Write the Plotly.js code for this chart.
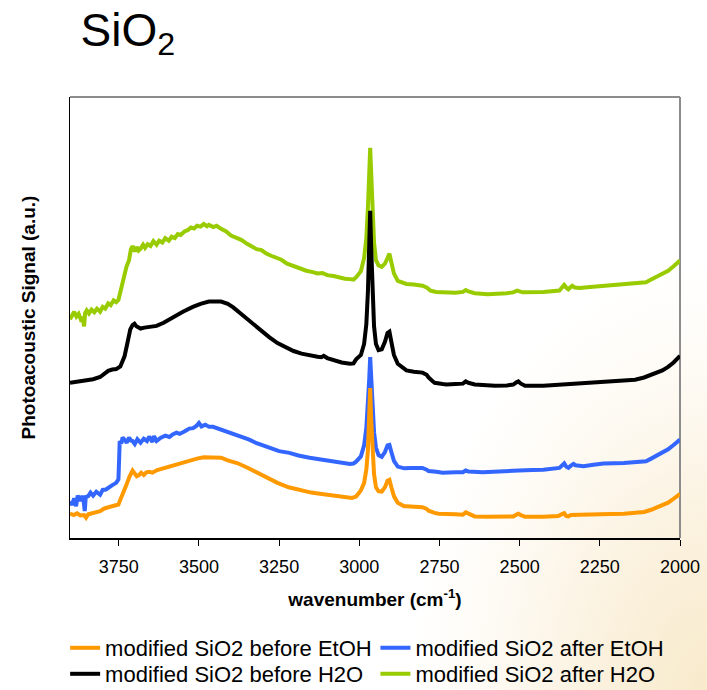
<!DOCTYPE html>
<html>
<head>
<meta charset="utf-8">
<script src="https://cdn.plot.ly/plotly-3.0.1.min.js"></script>
<style>
  html, body { margin: 0; padding: 0; }
  body {
    width: 707px; height: 690px; overflow: hidden;
    background: radial-gradient(ellipse 42% 62% at 100% 100%, #f8eacb 0%, #fbf2e0 40%, #fefbf5 75%, #ffffff 100%);
  }
  #chart { width: 707px; height: 690px; }
</style>
</head>
<body>
<div id="chart"></div>
<script>
// Photoacoustic spectra of modified SiO2 (arbitrary units, curves offset vertically)

const beforeEtohWn = [3902,3890,3880,3870,3858,3852,3845,3830,3808,3795,3783,3765,3751,3745,3738,3726,3716,3707,3700,3694,3688,3680,3672,3664,3655,3645,3630,3607,3580,3557,3530,3506,3485,3469,3450,3431,3410,3381,3350,3318,3290,3255,3220,3180,3150,3117,3085,3054,3035,3023,3010,2995,2985,2978,2973,2969,2966,2963,2959,2954,2948,2940,2930,2920,2912,2906,2900,2892,2880,2860,2853,2830,2803,2790,2784,2765,2753,2700,2677,2668,2660,2640,2600,2552,2520,2510,2504,2496,2483,2426,2380,2368,2361,2355,2348,2340,2301,2250,2175,2140,2112,2090,2075,2055,2037,2020,2000];
const beforeEtohSig = [5.5,5.2,5.6,5.1,5.2,4.6,5.4,5.6,6.1,6.7,7.0,7.3,7.6,8.7,10.2,12.1,14.0,15.3,14.6,14.0,14.2,14.8,14.3,14.9,15.0,14.8,15.4,15.9,16.5,17.0,17.5,18.0,18.3,18.3,18.4,18.2,17.6,17.0,16.0,14.8,13.6,12.5,11.5,10.8,10.3,10.0,9.7,9.5,9.3,9.1,9.4,10.8,12.5,15.5,20.0,27.0,34.0,27.0,20.0,14.5,11.5,10.6,10.5,11.5,13.0,13.2,11.5,9.5,8.0,7.2,7.2,7.1,7.0,6.6,6.2,5.7,5.5,5.4,5.3,5.8,5.5,4.9,4.8,4.8,4.9,5.3,5.5,5.2,4.8,4.8,5.0,5.4,5.6,5.0,4.9,5.2,5.2,5.4,5.5,5.7,5.9,6.4,6.8,7.4,8.0,8.9,10.0];

const afterEtohWn = [3902,3895,3889,3883,3878,3870,3864,3860,3856,3853,3845,3838,3830,3820,3808,3800,3790,3783,3770,3758,3751,3749,3747,3742,3738,3732,3725,3718,3712,3707,3700,3692,3682,3672,3662,3655,3645,3640,3632,3620,3605,3592,3582,3570,3560,3544,3530,3518,3508,3500,3492,3480,3468,3456,3440,3420,3406,3390,3370,3343,3320,3300,3280,3250,3218,3190,3155,3120,3079,3050,3029,3018,3010,2995,2985,2978,2973,2969,2966,2963,2959,2954,2948,2940,2930,2920,2912,2906,2900,2892,2880,2860,2840,2803,2790,2784,2760,2740,2700,2677,2668,2660,2615,2552,2502,2460,2426,2376,2368,2361,2355,2348,2340,2332,2326,2301,2270,2238,2175,2140,2106,2090,2075,2055,2037,2020,2000];
const afterEtohSig = [8.3,7.5,9.0,7.2,9.6,8.4,9.5,8.8,6.1,9.3,9.5,10.3,9.6,10.5,9.8,10.9,11.0,11.4,12.0,12.5,13.3,17.5,22.0,21.4,22.8,22.3,21.6,22.8,22.1,22.0,21.3,22.4,21.6,22.5,22.0,23.0,21.8,23.1,22.0,22.7,23.2,22.9,23.5,23.9,23.6,24.2,24.8,24.9,25.4,26.1,25.3,25.7,25.2,25.2,24.8,24.3,24.1,23.5,23.0,22.3,21.5,21.0,20.5,19.7,19.3,18.7,18.2,17.8,17.4,17.0,16.8,16.9,17.3,18.5,21.0,25.0,30.0,36.0,41.0,36.0,29.5,24.0,20.5,18.8,18.4,19.5,21.0,21.1,19.5,17.5,16.2,15.8,15.9,15.9,15.5,15.2,15.0,14.8,14.9,14.9,15.3,15.1,14.9,15.0,15.3,15.4,15.5,15.9,16.4,16.9,16.2,15.9,16.4,16.8,16.5,16.3,16.6,16.9,17.0,17.2,17.4,18.0,18.6,19.4,20.1,21.1,22.3];

const beforeH2oWn = [3902,3880,3858,3830,3808,3795,3783,3770,3758,3745,3739,3732,3726,3720,3714,3707,3701,3695,3688,3682,3670,3650,3632,3610,3582,3550,3519,3495,3469,3450,3431,3410,3393,3370,3343,3310,3280,3255,3230,3205,3180,3150,3130,3118,3111,3100,3079,3055,3029,3018,3010,2995,2985,2978,2973,2969,2966,2963,2959,2954,2948,2940,2930,2920,2912,2906,2900,2892,2880,2860,2853,2830,2803,2790,2784,2772,2765,2740,2728,2700,2677,2668,2660,2640,2600,2577,2540,2520,2510,2504,2496,2483,2426,2380,2363,2340,2301,2250,2175,2140,2112,2090,2075,2055,2037,2020,2000];
const beforeH2oSig = [35.2,35.4,35.6,36.0,36.5,37.2,37.9,38.2,38.3,38.9,39.8,41.2,43.2,45.3,47.3,48.3,48.6,48.0,47.6,47.5,47.7,47.9,48.1,48.8,50.0,51.3,52.4,53.1,53.6,53.7,53.6,53.1,52.3,50.9,49.2,47.4,45.5,44.2,43.2,42.4,41.8,41.3,41.1,41.0,41.3,40.8,40.3,39.8,39.5,39.6,40.5,41.5,44.0,48.5,56.0,66.0,74.2,66.0,56.0,48.0,44.0,42.6,42.8,44.5,46.5,46.8,44.5,41.5,39.5,38.2,38.0,37.7,37.5,37.0,36.4,35.6,35.2,34.9,34.8,34.9,35.0,35.5,35.2,34.8,34.6,34.5,34.6,34.8,35.3,35.5,35.0,34.5,34.5,34.7,34.9,34.9,35.0,35.2,35.6,35.9,36.4,37.0,37.5,38.0,38.8,39.8,41.3];

const afterH2oWn = [3902,3895,3889,3882,3875,3868,3862,3858,3855,3850,3843,3835,3826,3818,3808,3800,3792,3783,3775,3766,3758,3751,3748,3744,3739,3733,3726,3718,3712,3707,3700,3694,3688,3682,3674,3668,3660,3651,3642,3632,3624,3614,3605,3594,3585,3575,3566,3557,3545,3535,3525,3515,3506,3495,3485,3475,3469,3455,3445,3431,3415,3400,3385,3368,3350,3335,3320,3305,3290,3275,3260,3243,3225,3210,3195,3180,3165,3145,3130,3115,3100,3080,3060,3045,3030,3018,3010,2995,2985,2978,2973,2969,2966,2963,2959,2954,2948,2940,2930,2920,2912,2906,2900,2892,2880,2865,2853,2830,2803,2790,2778,2760,2740,2700,2677,2668,2660,2640,2600,2577,2540,2520,2508,2495,2489,2426,2390,2376,2368,2361,2355,2348,2342,2336,2328,2313,2280,2238,2200,2175,2140,2106,2090,2075,2055,2037,2020,2000];
const afterH2oSig = [49.6,50.5,51.3,50.2,50.8,49.5,49.8,48.0,51.0,51.6,50.9,51.8,51.2,52.0,51.3,52.4,52.0,53.2,52.8,53.9,53.5,54.0,55.0,55.8,57.8,59.0,61.5,63.0,65.5,66.2,65.0,66.0,65.2,65.6,66.5,65.8,66.6,66.2,67.3,66.5,67.4,67.0,68.0,67.4,68.3,68.0,68.9,68.7,69.5,69.8,70.4,70.2,70.8,70.6,71.2,70.7,71.0,70.5,70.8,70.1,69.5,68.6,68.1,67.6,66.7,66.2,65.5,65.3,64.5,64.0,63.5,63.1,62.2,61.8,61.3,61.0,60.6,60.3,60.0,60.1,59.6,59.4,59.0,58.8,58.7,58.6,59.1,60.5,63.5,68.0,75.0,83.0,88.5,83.0,75.0,67.0,63.0,61.8,61.5,62.2,63.5,64.5,62.5,60.0,58.3,57.8,57.6,57.5,57.2,56.8,56.1,55.8,55.7,55.6,55.8,56.2,55.9,55.5,55.3,55.3,55.5,55.7,56.1,55.8,55.7,55.8,55.9,56.1,56.8,57.4,56.8,56.4,56.8,57.2,56.8,56.7,56.9,57.2,57.4,57.6,57.8,58.0,58.6,59.1,59.9,60.6,61.6,62.9];

const xTicks = [3750, 3500, 3250, 3000, 2750, 2500, 2250, 2000];
const xRange = [3902, 2000];

const FONT = 'Liberation Sans, Arial, sans-serif';

function series(name, x, y, color, legendId) {
  return {
    type: 'scatter', mode: 'lines', name: name, x: x, y: y,
    line: { color: color, width: 4 },
    legend: legendId, hoverinfo: 'skip'
  };
}

// drawn bottom-up so that black sits over green and orange over blue
const traces = [
  series('modified SiO2 after H2O', afterH2oWn, afterH2oSig, '#99cc00', 'legend4'),
  series('modified SiO2 before H2O', beforeH2oWn, beforeH2oSig, '#000000', 'legend3'),
  series('modified SiO2 after EtOH', afterEtohWn, afterEtohSig, '#3366ff', 'legend2'),
  series('modified SiO2 before EtOH', beforeEtohWn, beforeEtohSig, '#ff9900', 'legend')
];

// one legend box per entry: two columns, two rows under the axis title
function legendBox(x, y) {
  return {
    orientation: 'v',
    xref: 'paper', x: x, xanchor: 'left',
    yref: 'paper', y: y, yanchor: 'middle',
    font: { family: FONT, size: 22, color: '#000' },
    bgcolor: 'rgba(0,0,0,0)'
  };
}
const col1 = -0.008, col2 = 0.5007;
const row1 = -0.2494, row2 = -0.3084;

const layout = {
  width: 707, height: 690,
  paper_bgcolor: 'rgba(0,0,0,0)',
  plot_bgcolor: 'rgba(0,0,0,0)',
  margin: { l: 70, r: 27, t: 97, b: 152, autoexpand: false },
  font: { family: FONT, color: '#000' },
  title: {
    text: 'SiO<sub>2</sub>',
    font: { family: FONT, size: 46, color: '#000' },
    xref: 'container', x: 0.114, xanchor: 'left',
    yref: 'container', y: 0.957, yanchor: 'middle'
  },
  xaxis: {
    range: xRange,
    tickmode: 'array', tickvals: xTicks,
    ticks: 'outside', ticklen: 6, tickwidth: 1, tickcolor: '#000',
    ticklabelstandoff: 6,
    showline: true, linecolor: '#000', linewidth: 1.5,
    showgrid: false, zeroline: false,
    tickfont: { family: FONT, size: 18, color: '#000' },
    title: {
      text: '<b>wavenumber (cm<sup>-1</sup>)</b>',
      font: { family: FONT, size: 19, color: '#000' },
      standoff: 16
    },
    automargin: false
  },
  yaxis: {
    range: [0, 100],
    showticklabels: false, ticks: '',
    showline: true, linecolor: '#000', linewidth: 1.5,
    showgrid: false, zeroline: false,
    title: {
      text: '<b>Photoacoustic Signal (a.u.)</b>',
      font: { family: FONT, size: 19, color: '#000' },
      standoff: 28
    },
    automargin: false
  },
  shapes: [
    { type: 'line', xref: 'paper', yref: 'paper', x0: 0, x1: 1, y0: 1, y1: 1,
      line: { color: '#8c8c8c', width: 2 }, layer: 'below' },
    { type: 'line', xref: 'paper', yref: 'paper', x0: 1, x1: 1, y0: 0, y1: 1,
      line: { color: '#8c8c8c', width: 2 }, layer: 'below' }
  ],
  showlegend: true,
  legend: legendBox(col1, row1),
  legend2: legendBox(col2, row1),
  legend3: legendBox(col1, row2),
  legend4: legendBox(col2, row2)
};

Plotly.newPlot('chart', traces, layout, { displayModeBar: false, staticPlot: true });
</script>
</body>
</html>
